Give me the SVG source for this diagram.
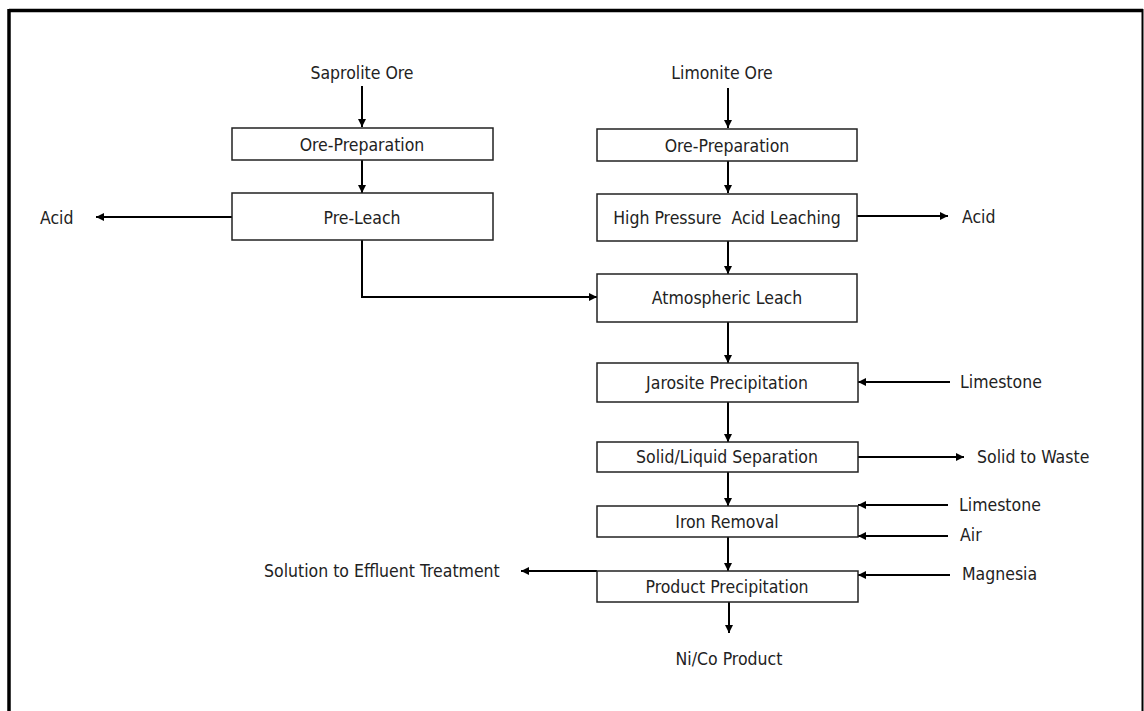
<svg xmlns="http://www.w3.org/2000/svg" width="1144" height="711" viewBox="0 0 1144 711">
  <style>
    .box { fill: #ffffff; stroke: #222222; stroke-width: 1.5; }
    .lbl { font-family: "DejaVu Sans Condensed", "DejaVu Sans", sans-serif; font-stretch: condensed; font-size: 17.5px; fill: #222222; }
    .mid { text-anchor: middle; dominant-baseline: central; }
    .side { dominant-baseline: central; }
    .flow { fill: none; stroke: #000000; stroke-width: 2; marker-end: url(#head); }
    .frame { fill: none; stroke: #000000; }
  </style>
  <defs>
    <marker id="head" viewBox="0 0 10 10" refX="10" refY="5" markerWidth="4.2" markerHeight="4.2" markerUnits="strokeWidth" orient="auto">
      <path d="M0,0 L10,5 L0,10 z" fill="#000000"/>
    </marker>
  </defs>

  <!-- page frame -->
  <g id="frame">
    <line class="frame" x1="9" y1="10.5" x2="1143" y2="10.5" stroke-width="3.5"/>
    <line class="frame" x1="9" y1="9" x2="9" y2="711" stroke-width="3.5"/>
    <line class="frame" x1="1142.5" y1="9" x2="1142.5" y2="711" stroke-width="2"/>
  </g>

  <!-- connectors -->
  <g id="connectors">
    <line class="flow" x1="362" y1="86" x2="362" y2="127"/>
    <line class="flow" x1="362" y1="160" x2="362" y2="193"/>
    <line class="flow" x1="232" y1="217" x2="96" y2="217"/>
    <polyline class="flow" points="362,240 362,297 597,297"/>
    <line class="flow" x1="728" y1="88" x2="728" y2="128"/>
    <line class="flow" x1="728" y1="161" x2="728" y2="193"/>
    <line class="flow" x1="857" y1="216" x2="948" y2="216"/>
    <line class="flow" x1="728" y1="241" x2="728" y2="274"/>
    <line class="flow" x1="728" y1="322" x2="728" y2="363"/>
    <line class="flow" x1="950" y1="382" x2="858" y2="382"/>
    <line class="flow" x1="728" y1="402" x2="728" y2="442"/>
    <line class="flow" x1="858" y1="457" x2="964" y2="457"/>
    <line class="flow" x1="728" y1="472" x2="728" y2="506"/>
    <line class="flow" x1="948" y1="505" x2="858" y2="505"/>
    <line class="flow" x1="948" y1="536" x2="858" y2="536"/>
    <line class="flow" x1="728" y1="537" x2="728" y2="571"/>
    <line class="flow" x1="950" y1="575" x2="858" y2="575"/>
    <line class="flow" x1="597" y1="571" x2="521" y2="571"/>
    <line class="flow" x1="729" y1="602" x2="729" y2="633"/>
  </g>

  <!-- stream labels -->
  <g id="streams">
    <text id="saprolite-ore" class="lbl mid" x="362" y="73">Saprolite Ore</text>
    <text id="limonite-ore" class="lbl mid" x="722" y="73">Limonite Ore</text>
    <text id="acid-out-left" class="lbl side" x="40" y="218">Acid</text>
    <text id="acid-out-right" class="lbl side" x="962" y="217">Acid</text>
    <text id="limestone-1" class="lbl side" x="960" y="382">Limestone</text>
    <text id="solid-waste" class="lbl side" x="977" y="457">Solid to Waste</text>
    <text id="limestone-2" class="lbl side" x="959" y="505">Limestone</text>
    <text id="air" class="lbl side" x="960" y="535">Air</text>
    <text id="magnesia" class="lbl side" x="962" y="574">Magnesia</text>
    <text id="effluent" class="lbl side" x="264" y="571">Solution to Effluent Treatment</text>
    <text id="product" class="lbl mid" x="729" y="659">Ni/Co Product</text>
  </g>

  <!-- process units -->
  <g id="sap-ore-prep">
    <rect class="box" x="232" y="128" width="261" height="32"/>
    <text class="lbl mid" x="362" y="145">Ore-Preparation</text>
  </g>
  <g id="pre-leach">
    <rect class="box" x="232" y="193" width="261" height="47"/>
    <text class="lbl mid" x="362" y="218">Pre-Leach</text>
  </g>
  <g id="lim-ore-prep">
    <rect class="box" x="597" y="129" width="260" height="32"/>
    <text class="lbl mid" x="727" y="146">Ore-Preparation</text>
  </g>
  <g id="hpal">
    <rect class="box" x="597" y="194" width="260" height="47"/>
    <text class="lbl mid" x="727" y="218" xml:space="preserve">High Pressure  Acid Leaching</text>
  </g>
  <g id="atmospheric-leach">
    <rect class="box" x="597" y="274" width="260" height="48"/>
    <text class="lbl mid" x="727" y="298">Atmospheric Leach</text>
  </g>
  <g id="jarosite">
    <rect class="box" x="597" y="363" width="261" height="39"/>
    <text class="lbl mid" x="727" y="383">Jarosite Precipitation</text>
  </g>
  <g id="solid-liquid">
    <rect class="box" x="597" y="442" width="261" height="30"/>
    <text class="lbl mid" x="727" y="457">Solid/Liquid Separation</text>
  </g>
  <g id="iron-removal">
    <rect class="box" x="597" y="506" width="261" height="31"/>
    <text class="lbl mid" x="727" y="522">Iron Removal</text>
  </g>
  <g id="product-precipitation">
    <rect class="box" x="597" y="571" width="261" height="31"/>
    <text class="lbl mid" x="727" y="587">Product Precipitation</text>
  </g>
</svg>
